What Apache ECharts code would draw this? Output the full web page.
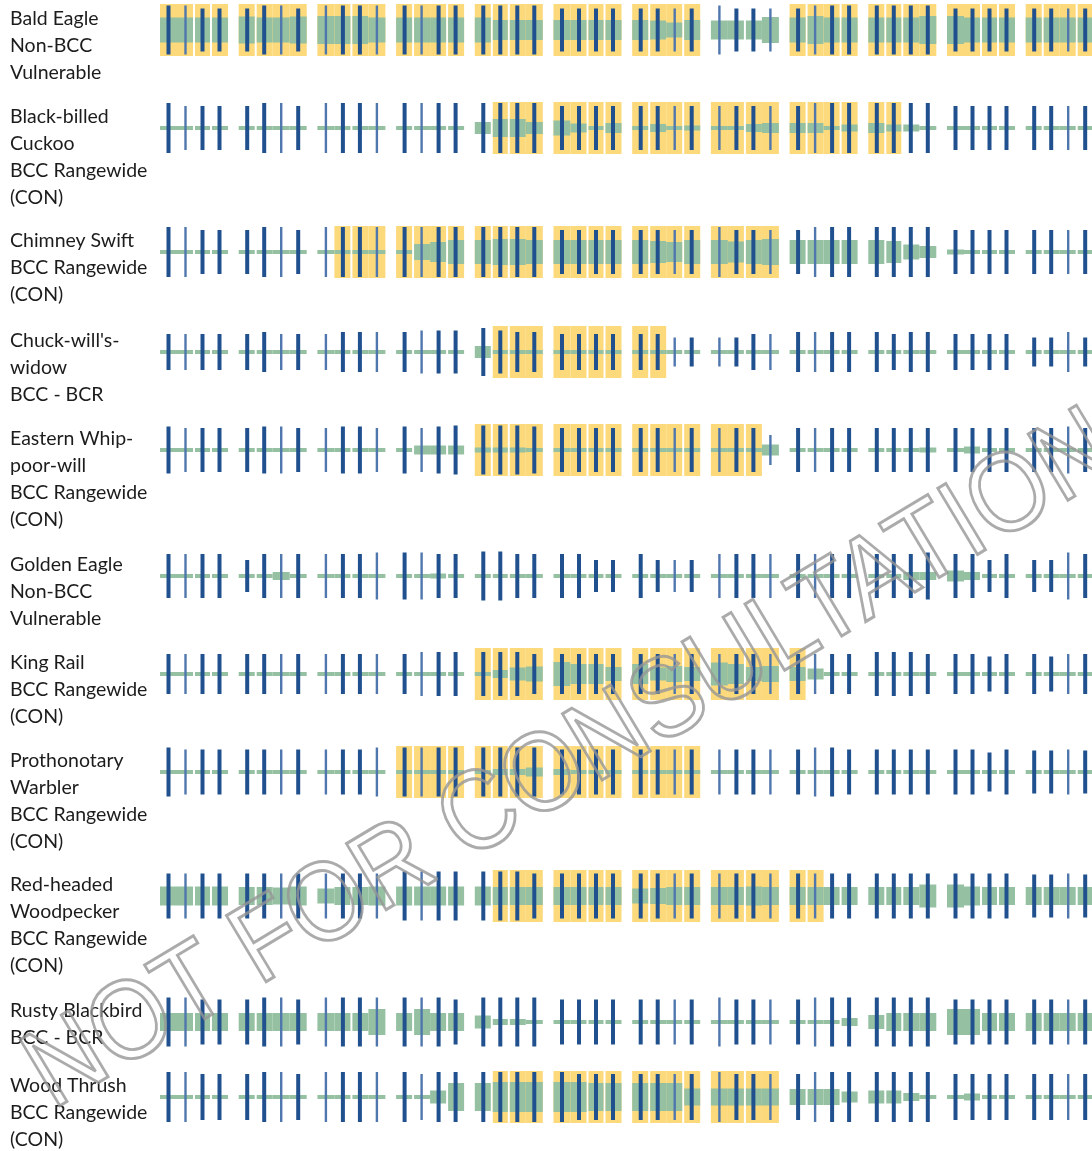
<!DOCTYPE html>
<html><head><meta charset="utf-8">
<script src="https://cdn.jsdelivr.net/npm/echarts@6/dist/echarts.min.js"></script>
<style>html,body{margin:0;padding:0;background:#fff;overflow:hidden}#c{width:1120px;height:1151px}</style>
</head><body><div id="c"></div>
<script>
// ---------------- DATA ----------------
const species = ['Bald Eagle','Black-billed Cuckoo','Chimney Swift',"Chuck-will's-widow",'Eastern Whip-poor-will','Golden Eagle','King Rail','Prothonotary Warbler','Red-headed Woodpecker','Rusty Blackbird','Wood Thrush'];
const speciesLabels = [
  ['Bald Eagle','Non-BCC','Vulnerable'],
  ['Black-billed','Cuckoo','BCC Rangewide','(CON)'],
  ['Chimney Swift','BCC Rangewide','(CON)'],
  ["Chuck-will's-",'widow','BCC - BCR'],
  ['Eastern Whip-','poor-will','BCC Rangewide','(CON)'],
  ['Golden Eagle','Non-BCC','Vulnerable'],
  ['King Rail','BCC Rangewide','(CON)'],
  ['Prothonotary','Warbler','BCC Rangewide','(CON)'],
  ['Red-headed','Woodpecker','BCC Rangewide','(CON)'],
  ['Rusty Blackbird','BCC - BCR'],
  ['Wood Thrush','BCC Rangewide','(CON)']
];
const months = ['Jan','Feb','Mar','Apr','May','Jun','Jul','Aug','Sep','Oct','Nov','Dec'];
const weeksPerMonth = 4;
// breeding season, as [firstWeek, lastWeek] (0-based, 48 weeks)
const breedingWeeks = [
  [[0,27],[32,47]], [[17,37]], [[9,31]], [[17,25]], [[16,30]], [],
  [[16,32]], [[12,27]], [[17,33]], [], [[17,31]]
];
// probability of presence (relative bar height), 48 weeks per species
const presence = [
  [25,25,25,25, 27,25,25,27, 28,28,28,25, 25,25,25,25, 25,20,20,20, 20,20,20,20, 20,19,15,20, 19,19,19,26, 25,28,25,25, 25,25,25,28, 28,25,25,25, 25,25,25,25],
  [4,4,4,4, 4,4,4,4, 4,4,4,4, 4,4,4,4, 12,18,18,12, 15,9,4,10, 4,8,4,5, 4,4,8,10, 10,10,4,7, 10,7,7,4, 4,4,4,4, 4,4,4,4],
  [4,4,4,4, 4,4,4,4, 4,4,4,4, 4,16,20,24, 24,26,26,24, 24,24,24,24, 24,22,20,24, 24,21,24,26, 24,24,24,24, 24,22,15,12, 5,4,4,4, 4,4,4,4],
  [4,4,4,4, 4,4,4,4, 4,4,4,4, 4,4,4,4, 12,4,4,4, 4,4,4,4, 4,4,4,4, 4,4,4,4, 4,4,4,4, 4,4,4,4, 4,4,4,4, 4,4,4,4],
  [4,4,4,4, 4,4,4,4, 4,4,4,4, 4,9,9,9, 5,5,5,4, 4,4,4,4, 4,4,4,4, 4,4,4,11, 4,4,4,4, 4,4,4,5, 4,7,4,4, 4,4,4,4],
  [4,4,4,4, 4,4,8,4, 4,4,4,4, 4,4,5,4, 4,4,4,4, 4,4,4,4, 4,4,4,4, 4,4,4,4, 4,4,4,4, 4,4,8,8, 11,8,4,4, 4,4,4,4],
  [4,4,4,4, 4,4,4,4, 4,4,4,4, 4,4,4,4, 4,8,13,15, 24,20,20,14, 20,13,16,14, 23,20,14,16, 14,11,4,4, 4,4,4,4, 4,4,4,4, 4,4,4,4],
  [4,4,4,4, 4,4,4,4, 4,4,4,4, 4,4,4,4, 4,6,6,9, 6,4,4,4, 4,4,4,4, 4,4,4,4, 4,4,4,4, 4,4,4,4, 4,4,4,4, 4,4,4,4],
  [19,19,19,19, 18,18,17,19, 15,18,18,19, 19,19,19,19, 19,18,18,18, 18,18,18,18, 15,16,18,18, 18,18,19,18, 18,18,18,18, 18,18,18,23, 23,19,18,18, 18,18,18,18],
  [18,18,18,18, 18,18,18,18, 18,18,18,26, 18,26,18,18, 13,6,6,4, 4,4,4,4, 4,4,4,4, 4,4,4,4, 4,4,4,8, 14,18,18,18, 26,26,18,18, 18,18,18,18],
  [4,4,4,4, 4,4,4,4, 4,4,4,4, 4,4,13,28, 28,30,30,30, 30,30,28,28, 28,28,28,17, 17,17,17,17, 16,16,16,11, 13,13,8,4, 4,7,4,4, 4,4,4,4]
];
// survey effort (relative line length), 48 weeks per species
const effort = [
  [49,49,43,43, 43,49,49,43, 49,49,49,49, 49,49,49,49, 49,49,49,49, 43,43,43,43, 43,43,43,43, 49,43,43,43, 43,49,49,49, 49,49,49,49, 43,43,43,43, 43,43,43,43],
  [50,44,44,44, 44,50,50,44, 50,50,50,50, 50,50,50,50, 50,50,50,50, 44,44,44,44, 44,44,44,44, 44,44,44,44, 44,50,50,50, 50,50,50,50, 44,44,44,44, 44,44,44,44],
  [50,50,44,44, 44,50,50,44, 50,50,50,50, 50,50,50,50, 50,50,50,50, 44,44,44,44, 44,44,44,44, 50,44,44,44, 44,50,50,50, 50,50,50,50, 44,44,44,44, 44,44,44,44],
  [36,36,36,36, 36,40,36,36, 36,40,40,40, 40,43,43,43, 48,43,40,40, 36,36,36,36, 36,36,29,29, 29,29,36,36, 40,40,40,40, 40,36,40,40, 36,36,36,36, 29,29,40,29],
  [47,44,44,44, 44,47,47,44, 44,47,47,44, 47,44,47,49, 49,49,49,47, 44,44,44,44, 44,44,44,44, 44,44,44,30, 44,44,44,44, 44,44,44,44, 44,44,44,44, 44,44,47,44],
  [44,44,44,44, 32,44,44,44, 44,44,44,47, 47,47,44,44, 49,49,44,44, 44,44,32,32, 44,32,32,32, 44,44,44,44, 44,44,44,44, 44,44,44,47, 44,44,32,44, 32,32,47,44],
  [40,40,40,40, 40,40,40,40, 40,40,40,40, 40,44,44,44, 44,44,44,40, 40,40,40,40, 40,40,40,40, 40,40,40,40, 40,40,40,40, 44,44,44,40, 40,40,35,40, 40,35,40,40],
  [49,45,45,45, 45,45,45,45, 45,45,45,49, 49,49,49,49, 49,49,49,49, 45,45,45,45, 45,45,45,45, 45,45,45,45, 45,49,49,45, 45,45,45,45, 45,45,39,45, 43,43,45,43],
  [45,45,45,45, 45,45,45,45, 45,45,45,45, 49,49,49,49, 49,49,49,45, 45,45,45,45, 45,45,45,45, 45,45,45,45, 45,45,45,45, 45,45,45,45, 45,45,45,45, 43,43,45,43],
  [49,49,45,45, 45,49,49,45, 49,49,49,49, 49,49,49,45, 49,49,49,49, 45,45,45,45, 45,45,45,45, 49,45,45,45, 45,49,49,49, 49,49,49,49, 45,45,45,45, 45,45,45,45],
  [50,50,46,46, 46,50,50,46, 50,50,50,50, 50,46,50,50, 50,50,50,50, 50,46,46,46, 46,46,46,46, 50,46,46,46, 46,50,50,50, 50,50,50,50, 46,46,46,46, 46,46,46,46]
];

// ---------------- LAYOUT / STYLE ----------------
const rowCenters = [30,128,252,352,450,576,674,772,896,1022,1097];
const LEFT = 160, MONTH_PX = 78.7, WEEK_PX = 17, ROW_H = 52;
const weekFrac = WEEK_PX / MONTH_PX;
// pixel-rendering look of the original: which weekly columns print heavy, where the white seams fall
const heavyCol = [1,0,1,1, 1,1,0,1, 0,1,1,0, 1,0,1,1, 1,1,1,1, 1,1,1,1, 1,1,0,1, 0,1,1,0, 1,0,1,1, 1,1,1,1, 1,1,1,1, 1,1,0,1];
const seamAfter = [0,1,1,0, 1,0,0,0, 0,1,0,0, 1,0,1,0, 1,1,0,0, 0,1,1,0, 1,0,1,0, 0,1,0,0, 1,0,1,0, 1,1,0,0, 0,1,1,0, 1,0,1,0];
const YELLOW = '#fcd97b', GREEN = '#95c1a2', BLUE = '#21508f', BLUE_LIGHT = '#4f77ad';

function isBreeding(r, i) {
  return breedingWeeks[r].some(([a, b]) => i >= a && i <= b);
}

function renderItem(params, api) {
  const m = api.value(0), w = api.value(1), p = api.value(2), e = api.value(3), b = api.value(4), idx = api.value(5);
  const x0 = m + w * weekFrac, x1 = x0 + weekFrac;
  const gb = (w > 0 && seamAfter[idx - 1]) ? 1 : 0;
  const ga = (w < weeksPerMonth - 1 && seamAfter[idx]) ? 1 : 0;
  const children = [];
  const tl = api.coord([x0, ROW_H / 2]), br = api.coord([x1, -ROW_H / 2]);
  const left = tl[0] + gb, width = br[0] - tl[0] - gb - ga;
  if (b) {
    children.push({type: 'rect', shape: {x: left, y: tl[1], width: width, height: br[1] - tl[1]}, style: {fill: YELLOW}});
  }
  if (p > 0) {
    const gt = api.coord([x0, p / 2]), gbm = api.coord([x0, -p / 2]);
    children.push({type: 'rect', shape: {x: left, y: gt[1], width: width, height: gbm[1] - gt[1]}, style: {fill: GREEN}});
  }
  if (e > 0) {
    const lt = api.coord([x0 + weekFrac / 2, e / 2]), lb = api.coord([x0 + weekFrac / 2, -e / 2]);
    const heavy = heavyCol[idx];
    children.push({type: 'line', shape: {x1: lt[0], y1: lt[1], x2: lb[0], y2: lb[1]},
      style: {stroke: heavy ? BLUE : BLUE_LIGHT, lineWidth: heavy ? 4 : 2.4, lineCap: 'butt'}});
  }
  return {type: 'group', children: children};
}

const grids = [], xAxes = [], yAxes = [], series = [];
species.forEach((name, r) => {
  grids.push({left: LEFT, top: rowCenters[r] - ROW_H / 2, width: MONTH_PX * months.length, height: ROW_H, outerBoundsMode: 'none'});
  xAxes.push({type: 'value', gridIndex: r, min: 0, max: months.length, show: false});
  yAxes.push({type: 'value', gridIndex: r, min: -ROW_H / 2, max: ROW_H / 2, show: false});
  const data = [];
  for (let i = 0; i < months.length * weeksPerMonth; i++) {
    data.push([Math.floor(i / weeksPerMonth), i % weeksPerMonth, presence[r][i], effort[r][i], isBreeding(r, i) ? 1 : 0, i]);
  }
  series.push({type: 'custom', name: name, xAxisIndex: r, yAxisIndex: r, renderItem: renderItem, data: data, silent: true, animation: false});
});

const graphic = speciesLabels.map((lines, r) => ({
  type: 'text', left: 10, top: rowCenters[r] - 11 - 13.5, silent: true,
  style: {text: lines.join('\n'), font: '19.5px Lato', lineHeight: 27, fill: '#1c1c1c'}
}));
graphic.push({
  type: 'text', x: 572, y: 762, rotation: 31 * Math.PI / 180, scaleX: 0.9, z: 100, silent: true,
  style: {text: 'NOT FOR CONSULTATION', font: '112px "Liberation Sans"', fill: 'none',
    stroke: 'rgba(150,150,150,0.8)', lineWidth: 3, align: 'center', verticalAlign: 'middle'}
});

const chart = echarts.init(document.getElementById('c'));
chart.setOption({animation: false, backgroundColor: '#fff', grid: grids, xAxis: xAxes, yAxis: yAxes, series: series, graphic: graphic});
</script>
</body></html>
